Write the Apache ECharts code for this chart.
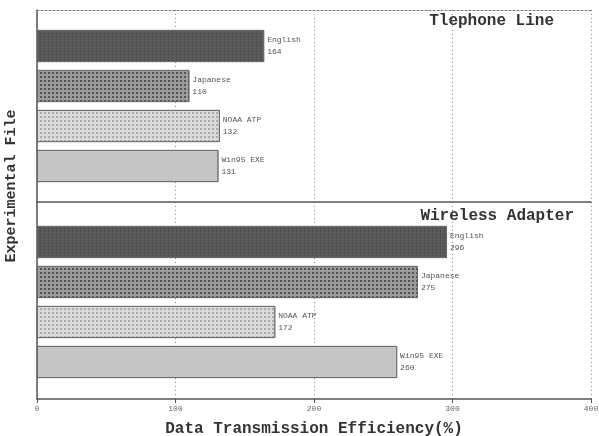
<!DOCTYPE html>
<html><head><meta charset="utf-8">
<script src="https://cdn.jsdelivr.net/npm/echarts@6/dist/echarts.min.js"></script>
<style>html,body{margin:0;padding:0;background:#fff}#c{width:599px;height:436px}</style>
</head><body><div id="c"></div>
<script>
var categories = ['English', 'Japanese', 'NOAA ATP', 'Win95 EXE'];
var telephone = [164, 110, 132, 131];
var wireless = [296, 275, 172, 260];
var panelTitles = ['Tlephone Line', 'Wireless Adapter'];
var xMin = 0, xMax = 400, xStep = 100;
var xName = 'Data Transmission Efficiency(%)';
var yName = 'Experimental File';

var mono = '"Liberation Mono","DejaVu Sans Mono",monospace';
var barStyles = [
  {color: '#5a5a5a', decal: {symbol: 'rect', symbolSize: 1, color: 'rgba(40,40,40,0.5)', dashArrayX: [1, 3], dashArrayY: [1, 2]}},
  {color: '#9c9c9c', decal: {symbol: 'rect', symbolSize: 1, color: 'rgba(60,60,60,0.75)', dashArrayX: [2, 2], dashArrayY: [2, 2]}},
  {color: '#dadada', decal: {symbol: 'rect', symbolSize: 1, color: 'rgba(150,150,150,0.7)', dashArrayX: [2, 2], dashArrayY: [2, 2]}},
  {color: '#c6c6c6', decal: {symbol: 'rect', symbolSize: 1, color: 'rgba(170,170,170,0.4)', dashArrayX: [1, 3], dashArrayY: [1, 3]}}
];
function items(vals) {
  return vals.map(function (v, i) {
    return {value: v, itemStyle: {color: barStyles[i].color, decal: barStyles[i].decal, borderColor: '#666', borderWidth: 0.8}};
  });
}
var dotted = {color: '#888', type: [1, 3], width: 1};
var L = 37, W = 554;
var g = function (top, height) { return {left: L, width: W, top: top, height: height, outerBoundsMode: 'none', containLabel: false}; };
var labelCfg = {show: true, position: 'right', distance: 3, fontFamily: mono, fontSize: 8, color: '#555', lineHeight: 12,
  formatter: function (p) { return p.name + '\n' + p.value; }};
var option = {
  backgroundColor: '#fff',
  animation: false,
  title: [
    {text: panelTitles[0], right: 40, top: 8, textStyle: {fontFamily: mono, fontWeight: 'bold', fontSize: 16, color: '#333'}},
    {text: panelTitles[1], right: 20, top: 203, textStyle: {fontFamily: mono, fontWeight: 'bold', fontSize: 16, color: '#333'}}
  ],
  grid: [g(10, 192), g(202, 197), g(26, 160), g(222, 160), g(100, 172)],
  xAxis: [
    {gridIndex: 0, type: 'value', min: xMin, max: xMax, interval: xStep, position: 'top',
      axisLine: {show: true, onZero: false, lineStyle: {color: '#777', type: [2, 2], width: 1}}, axisTick: {show: false}, axisLabel: {show: false},
      splitLine: {show: true, lineStyle: dotted}},
    {gridIndex: 1, type: 'value', min: xMin, max: xMax, interval: xStep, position: 'bottom',
      axisLine: {show: true, onZero: false, lineStyle: {color: '#555', width: 1.5}},
      axisTick: {show: true, length: 4, inside: false, lineStyle: {color: '#555'}},
      axisLabel: {show: true, fontFamily: mono, fontSize: 8, color: '#666', margin: 6},
      splitLine: {show: true, lineStyle: dotted},
      name: xName, nameLocation: 'middle', nameGap: 22,
      nameTextStyle: {fontFamily: mono, fontWeight: 'bold', fontSize: 16, color: '#333'}},
    {gridIndex: 1, type: 'value', min: xMin, max: xMax, interval: xStep, position: 'top',
      axisLine: {show: true, onZero: false, lineStyle: {color: '#555', width: 1.5}}, axisTick: {show: false},
      axisLabel: {show: false}, splitLine: {show: false}},
    {gridIndex: 2, type: 'value', min: xMin, max: xMax, show: false, splitLine: {show: false}},
    {gridIndex: 3, type: 'value', min: xMin, max: xMax, show: false, splitLine: {show: false}},
    {gridIndex: 4, type: 'value', min: xMin, max: xMax, show: false, splitLine: {show: false}}
  ],
  yAxis: [
    {gridIndex: 0, type: 'value', min: 0, max: 1, axisLine: {show: true, onZero: false, lineStyle: {color: '#555', width: 1.5}},
      axisTick: {show: false}, axisLabel: {show: false}, splitLine: {show: false}},
    {gridIndex: 1, type: 'value', min: 0, max: 1, axisLine: {show: true, onZero: false, lineStyle: {color: '#555', width: 1.5}},
      axisTick: {show: false}, axisLabel: {show: false}, splitLine: {show: false}},
    {gridIndex: 2, type: 'category', data: categories, inverse: true, show: false},
    {gridIndex: 3, type: 'category', data: categories, inverse: true, show: false},
    {gridIndex: 4, type: 'value', min: 0, max: 1, axisLine: {show: false}, axisTick: {show: false},
      axisLabel: {show: false}, splitLine: {show: false},
      name: yName, nameLocation: 'middle', nameRotate: 90, nameGap: 18,
      nameTextStyle: {fontFamily: mono, fontWeight: 'bold', fontSize: 15, color: '#333'}}
  ],
  series: [
    {type: 'bar', xAxisIndex: 3, yAxisIndex: 2, barWidth: 32, data: items(telephone), label: labelCfg},
    {type: 'bar', xAxisIndex: 4, yAxisIndex: 3, barWidth: 32, data: items(wireless), label: labelCfg}
  ]
};
var chart = echarts.init(document.getElementById('c'), null, {renderer: 'canvas'});
chart.setOption(option);
</script></body></html>
